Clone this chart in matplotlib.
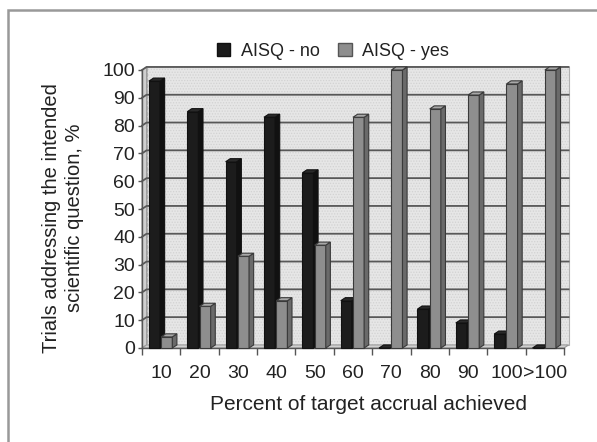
import matplotlib
matplotlib.use("Agg")
import matplotlib.pyplot as plt
from matplotlib.patches import Polygon, Rectangle, Patch
from matplotlib.lines import Line2D

categories = ["10", "20", "30", "40", "50", "60", "70", "80", "90", "100", ">100"]
aisq_no = [96, 85, 67, 83, 63, 17, 0, 14, 9, 5, 0]
aisq_yes = [4, 15, 33, 17, 37, 83, 100, 86, 91, 95, 100]
series_names = ["AISQ - no", "AISQ - yes"]
yticks = list(range(0, 101, 10))

plt.rcParams['font.family'] = ['Liberation Sans', 'DejaVu Sans']
plt.rcParams['hatch.linewidth'] = 0.6

W, H = 597, 442
fig = plt.figure(figsize=(W / 100, H / 100), dpi=100)
ax = fig.add_axes([142 / W, 1 - 348 / H, 422 / W, 278 / H])

n = len(categories)
x0, x1 = -0.5, n - 0.5
ax.set_xlim(x0, x1)
ax.set_ylim(0, 100)

dx, dy = 0.12, 1.1      # depth offset (data units)
bw = 0.29               # bar front width

# walls
wall_col = "#e6e6e6"
wall = [(x0 + dx, dy), (x1 + dx, dy), (x1 + dx, 100 + dy), (x0 + dx, 100 + dy)]
ax.add_patch(Polygon(wall, closed=True, facecolor=wall_col, edgecolor="#b0b0b0", lw=0.8,
                     clip_on=False, zorder=0))
ax.add_patch(Polygon(wall, closed=True, facecolor="none", edgecolor="#d2d2d2", lw=0,
                     hatch="......", clip_on=False, zorder=0.2))
ax.add_patch(Polygon([(x0, 0), (x0 + dx, dy), (x0 + dx, 100 + dy), (x0, 100)],
                     closed=True, facecolor="#cfcfcf", edgecolor="#9a9a9a", lw=0.8,
                     clip_on=False, zorder=0.5))
ax.add_patch(Polygon([(x0, 0), (x1, 0), (x1 + dx, dy), (x0 + dx, dy)],
                     closed=True, facecolor="#d0d0d0", edgecolor="#9a9a9a", lw=0.8,
                     clip_on=False, zorder=0.5))
# gridlines on back wall
for v in yticks[1:]:
    ax.add_line(Line2D([x0, x0 + dx, x1 + dx], [v, v + dy, v + dy],
                       color="#585858", lw=1.3, clip_on=False, zorder=1))


def bar3d(xl, h, front, side, top, edge):
    ax.add_patch(Rectangle((xl, 0), bw, h, facecolor=front, edgecolor=edge, lw=0.8,
                           zorder=3, clip_on=False))
    ax.add_patch(Polygon([(xl + bw, 0), (xl + bw + dx, dy), (xl + bw + dx, h + dy), (xl + bw, h)],
                         closed=True, facecolor=side, edgecolor=edge, lw=0.8, zorder=3,
                         clip_on=False))
    ax.add_patch(Polygon([(xl, h), (xl + bw, h), (xl + bw + dx, h + dy), (xl + dx, h + dy)],
                         closed=True, facecolor=top, edgecolor=edge, lw=0.8, zorder=3,
                         clip_on=False))


for i in range(n):
    bar3d(i - 0.32, aisq_no[i], "#1c1c1c", "#111111", "#2a2a2a", "#111111")
    bar3d(i + 0.0, aisq_yes[i], "#8e8e8e", "#6a6a6a", "#a8a8a8", "#3a3a3a")

# axes styling
for s in ["top", "right"]:
    ax.spines[s].set_visible(False)
for s in ["left", "bottom"]:
    ax.spines[s].set_color("#555555")
    ax.spines[s].set_linewidth(1.0)
    ax.spines[s].set_zorder(2)
ax.set_facecolor("none")
ax.set_yticks(yticks)
ax.set_yticklabels([str(v) for v in yticks])
ax.tick_params(axis="y", direction="out", length=3, width=1, color="#555555",
               labelsize=14, labelcolor="#222222", pad=2)
ax.set_xticks(range(n))
ax.set_xticklabels(categories)
ax.set_xticks([i - 0.5 for i in range(n + 1)], minor=True)
ax.tick_params(axis="x", which="major", length=0, labelsize=14, labelcolor="#222222", pad=12)
ax.tick_params(axis="x", which="minor", length=5, width=1, color="#555555", direction="out")

fig.text(368 / W, 1 - 405 / H, "Percent of target accrual achieved", ha="center", va="center",
         fontsize=15, color="#222222")
fig.text(63 / W, 1 - 218 / H, "Trials addressing the intended\nscientific question, %",
         rotation=90, ha="center", va="center", multialignment="center",
         fontsize=14.5, color="#222222", linespacing=1.2)

handles = [Patch(facecolor="#1c1c1c", edgecolor="#111111"),
           Patch(facecolor="#8e8e8e", edgecolor="#555555")]
fig.legend(handles, series_names, loc="center", bbox_to_anchor=(333 / W, 1 - 51 / H),
           ncol=2, frameon=False, fontsize=13, handlelength=0.75, handleheight=0.75,
           handletextpad=0.6, columnspacing=1.0, labelcolor="#222222")

# outer frame (left and top visible)
fig.add_artist(Rectangle((8 / W, -0.05), 1.2, 1 - 10 / H + 0.05, transform=fig.transFigure,
                         facecolor="none", edgecolor="#999999", lw=1.8))

fig.savefig("out.png", dpi=100)
